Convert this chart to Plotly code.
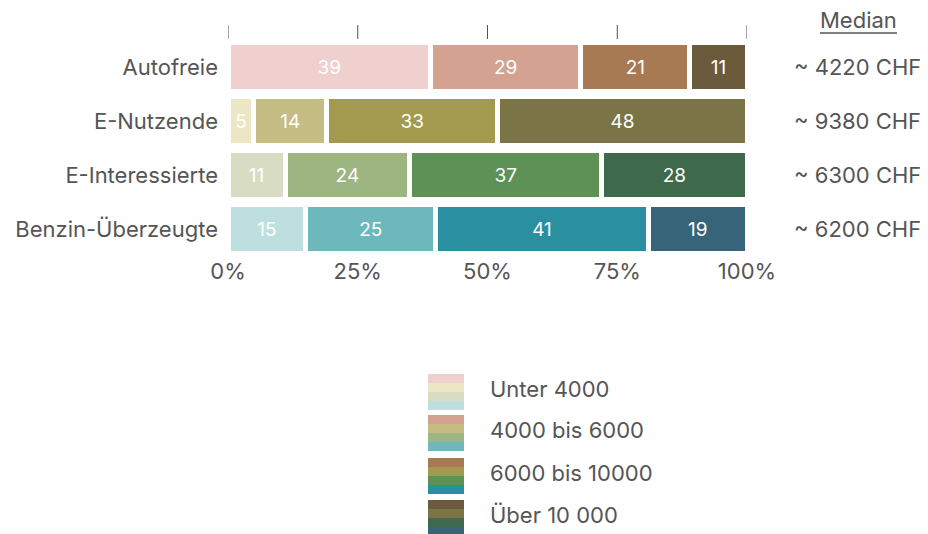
import plotly.graph_objects as go

# ---- data ----
groups = ["Autofreie", "E-Nutzende", "E-Interessierte", "Benzin-Überzeugte"]
classes = ["Unter 4000", "4000 bis 6000", "6000 bis 10000", "Über 10 000"]
unter_4000 = [39, 5, 11, 15]
bis_6000 = [29, 14, 24, 25]
bis_10000 = [21, 33, 37, 41]
ueber_10000 = [11, 48, 28, 19]
medians = ["~ 4220 CHF", "~ 9380 CHF", "~ 6300 CHF", "~ 6200 CHF"]
tick_vals = [0, 25, 50, 75, 100]
tick_text = ["0%", "25%", "50%", "75%", "100%"]

colors = {
    "Unter 4000": ["#f0d0cf", "#ede6c5", "#d8dcc3", "#bedfdf"],
    "4000 bis 6000": ["#d4a291", "#c5bd84", "#9db581", "#6db8bd"],
    "6000 bis 10000": ["#a77a54", "#a39a50", "#5d9156", "#2a8fa1"],
    "Über 10 000": ["#6c5a3d", "#7a7446", "#3e694a", "#376479"],
}
series = [unter_4000, bis_6000, bis_10000, ueber_10000]

FONT = "Inter"
TXT = "#555555"
OFF = 8  # page body margin
W, H = 928 - OFF, 534 - OFF
L, T = 220, 32
R = W - L - 519
B = H - T - 216
PW, PH = W - L - R, H - T - B


def px(x):
    """window x pixel -> paper"""
    return (x - OFF - L) / PW


def py(y):
    """window y pixel -> paper"""
    return (T + PH - (y - OFF)) / PH


fig = go.Figure()
for name, vals in zip(classes, series):
    fig.add_trace(go.Bar(
        y=groups, x=vals, name=name, orientation="h",
        marker=dict(color=colors[name], line=dict(color="white", width=5)),
        text=[str(v) for v in vals], textposition="inside",
        insidetextanchor="middle",
        textfont=dict(color="white", size=19, family=FONT),
        hoverinfo="skip", showlegend=False,
    ))

annotations = []
shapes = []
# median values
for g, m in zip(groups, medians):
    annotations.append(dict(xref="paper", yref="y", x=px(857), y=g, text=m,
                            showarrow=False, xanchor="center",
                            font=dict(size=22, color=TXT, family=FONT)))
annotations.append(dict(xref="paper", yref="paper", x=px(858), y=py(20),
                        text="Median", showarrow=False, xanchor="center",
                        yanchor="middle", font=dict(size=22, color=TXT, family=FONT)))
shapes.append(dict(type="line", xref="paper", yref="paper", x0=px(820), x1=px(897),
                   y0=py(33), y1=py(33), line=dict(color=TXT, width=1.5)))
# top tick marks
for v in tick_vals:
    shapes.append(dict(type="line", xref="x", yref="paper", x0=v, x1=v,
                       y0=py(25), y1=py(39), line=dict(color="#555555", width=1)))

# custom legend
group_tops = [374, 415, 458, 500]
for k, name in enumerate(classes):
    top = group_tops[k]
    for j, c in enumerate(colors[name]):
        shapes.append(dict(type="rect", xref="paper", yref="paper",
                           x0=px(428), x1=px(464), y0=py(top + j * 9), y1=py(top + (j + 1) * 9),
                           fillcolor=c, line=dict(width=0)))
    annotations.append(dict(xref="paper", yref="paper", x=px(488), y=py(top + 15),
                            text=name, showarrow=False, xanchor="left", yanchor="middle",
                            font=dict(size=22, color=TXT, family=FONT)))

fig.update_layout(
    width=W, height=H, barmode="stack", bargap=0.09,
    margin=dict(l=L, r=R, t=T, b=B),
    paper_bgcolor="white", plot_bgcolor="white",
    font=dict(family=FONT, color=TXT, size=22),
    uniformtext=dict(minsize=19, mode="show"),
    xaxis=dict(range=[0, 100], tickvals=tick_vals, ticktext=tick_text,
               showgrid=False, zeroline=False, showline=False, ticks="",
               automargin=False,
               tickfont=dict(size=22, color=TXT), fixedrange=True),
    yaxis=dict(categoryorder="array", categoryarray=groups, autorange="reversed",
               showgrid=False, zeroline=False, showline=False, ticks="",
               automargin=False,
               ticklabelstandoff=9, tickfont=dict(size=22, color=TXT)),
    annotations=annotations, shapes=shapes,
)
fig.write_html("out.html")
